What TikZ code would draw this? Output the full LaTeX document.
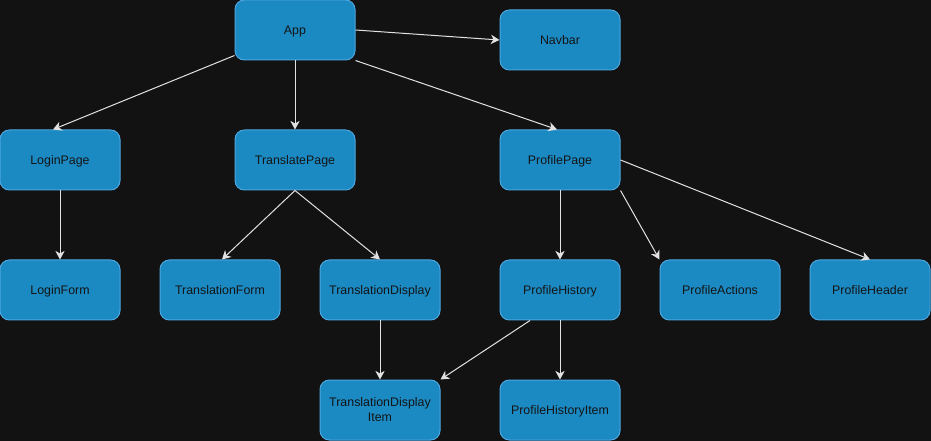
\documentclass[tikz,border=0pt]{standalone}
\usepackage{fontspec}
\setmainfont{Liberation Sans}
\usetikzlibrary{arrows.meta,calc}
\definecolor{bgc}{HTML}{121212}
\definecolor{boxfill}{HTML}{1B8AC3}
\definecolor{boxline}{HTML}{4DA6E0}
\definecolor{txt}{HTML}{141414}
\definecolor{edgec}{HTML}{E2E2E2}
\tikzset{
  comp/.style={draw=boxline, fill=boxfill, line width=0.75pt, rounded corners=7pt,
    minimum width=90pt, minimum height=45pt, inner sep=0pt, text=txt,
    text height=6.6pt, text depth=0pt,
    font=\fontsize{9.3pt}{11.25pt}\selectfont, align=center},
  twoline/.style={text height={}, text depth={}},
  link/.style={draw=edgec, line width=0.75pt,
    -{Stealth[length=6.5pt,width=7pt,inset=2pt,fill=edgec]}}
}
\begin{document}
\begin{tikzpicture}[x=0.75pt,y=-0.75pt]
\fill[bgc] (0,0) rectangle (931,441);
\useasboundingbox (0,0) rectangle (931,441);
\node[comp] (App) at (295,30) {App};
\node[comp] (Navbar) at (560,40) {Navbar};
\node[comp] (LoginPage) at (60,160) {LoginPage};
\node[comp] (TranslatePage) at (295,160) {TranslatePage};
\node[comp] (ProfilePage) at (560,160) {ProfilePage};
\node[comp] (LoginForm) at (60,290) {LoginForm};
\node[comp] (TranslationForm) at (220,290) {TranslationForm};
\node[comp] (TranslationDisplay) at (380,290) {TranslationDisplay};
\node[comp] (ProfileHistory) at (560,290) {ProfileHistory};
\node[comp] (ProfileActions) at (720,290) {ProfileActions};
\node[comp] (ProfileHeader) at (870,290) {ProfileHeader};
\node[comp, twoline] (TDItem) at (380,410) {TranslationDisplay\\Item};
\node[comp] (PHItem) at (560,410) {ProfileHistoryItem};

\draw[link] (App.east) -- (Navbar.west);
\draw[link] ($(App.south west)+(0,-5)$) -- ($(LoginPage.north)+(-7,0)$);
\draw[link] (App.south) -- (TranslatePage.north);
\draw[link] (App.south east) -- ($(ProfilePage.north)+(-3,0)$);
\draw[link] (LoginPage.south) -- (LoginForm.north);
\draw[link] (TranslatePage.south) -- ($(TranslationForm.north)+(2,0)$);
\draw[link] (TranslatePage.south) -- (TranslationDisplay.north);
\draw[link] (ProfilePage.south) -- (ProfileHistory.north);
\draw[link] (ProfilePage.south east) -- (ProfileActions.north west);
\draw[link] (ProfilePage.east) -- (ProfileHeader.north);
\draw[link] (TranslationDisplay.south) -- (TDItem.north);
\draw[link] ($(ProfileHistory.south)+(-30,0)$) -- (TDItem.north east);
\draw[link] (ProfileHistory.south) -- (PHItem.north);
\end{tikzpicture}
\end{document}
